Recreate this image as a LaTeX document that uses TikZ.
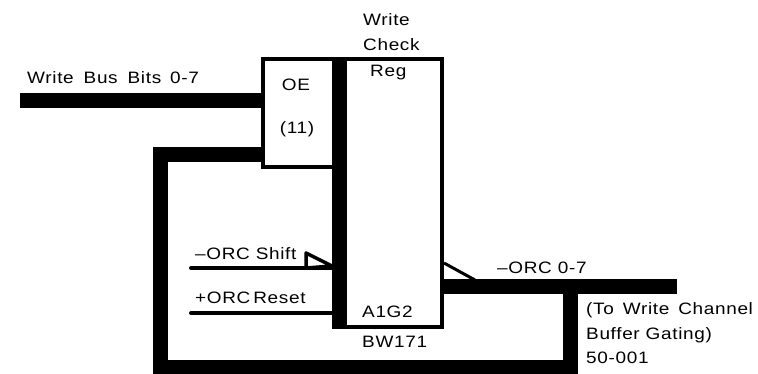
\documentclass[tikz,border=0pt]{standalone}
\usepackage{fontspec}
\setmainfont[FakeStretch=1.15,LetterSpace=4]{Liberation Sans}
\begin{document}
\begin{tikzpicture}[x=1pt,y=-1pt,
  box/.style={draw=black,line width=4pt,fill=white,inner sep=0pt,outer sep=0pt},
  bus/.style={line width=15pt,black},
  thin/.style={line width=4pt,black,line cap=round},
  tri/.style={draw=black,line width=3.5pt,fill=white,line join=round},
  lab/.style={inner sep=0pt,font=\fontsize{16.5}{18}\selectfont,text=black}]
\useasboundingbox (0,0) rectangle (758,373);
% boxes
\node[box,minimum width=103pt,minimum height=268pt,anchor=north west] (reg) at (339,59) {};
\node[box,minimum width=76pt,minimum height=108pt,anchor=north west] (oe) at (263,59) {};
\fill[black] (332,57) rectangle (347,329);
\coordinate (busin) at (20,100.5);
\coordinate (oein) at (261,100.5);
\coordinate (fbin) at (261,154.5);
\coordinate (fbc) at (160.5,154.5);
\coordinate (fbb) at (160.5,367);
\coordinate (fbr) at (570.5,367);
\coordinate (outj) at (570.5,286);
\coordinate (outs) at (442,286);
\coordinate (oute) at (677,286);
\coordinate (sh) at (191,268);
\coordinate (she) at (334,268);
\coordinate (rs) at (191,313);
\coordinate (rse) at (334,313);
\draw[bus] (busin) -- (oein);
\draw[bus,line join=miter] (fbin) -- (fbc) -- (fbb) -- (fbr) -- (outj);
\draw[bus] (outs) -- (oute);
\draw[thin] (sh) -- (she);
\draw[thin] (rs) -- (rse);
% triangles
\coordinate (a) at (306,268);
\coordinate (b) at (306,253);
\coordinate (c) at (332,266);
\draw[tri] (a) -- (b) -- (c) -- cycle;
\coordinate (d) at (444,263);
\coordinate (e) at (475,280);
\draw[black,line width=3pt] (d) -- (e);
% labels
\node[lab,anchor=west] (t1) at (27,78) {Write\hspace{4pt} Bus\hspace{4pt} Bits\hspace{3pt} 0-7};
\node[lab,anchor=west] (t2) at (363,20) {Write};
\node[lab,anchor=west] (t3) at (363,45) {Check};
\node[lab,anchor=west] (t4) at (370,73) {Reg};
\node[lab] (t5) at (296,85) {OE};
\node[lab] (t6) at (297,129) {(11)};
\node[lab,anchor=west] (t7) at (195,254) {–ORC Shift};
\node[lab,anchor=west] (t8) at (195,298) {+ORC\hspace{-3pt} Reset};
\node[lab,anchor=west] (t9) at (362,312) {A1G2};
\node[lab,anchor=west] (t10) at (362,342) {BW171};
\node[lab,anchor=west] (t11) at (497,268) {–ORC 0-7};
\node[lab,anchor=west] (t12) at (586,310) {(To\hspace{3pt} Write\hspace{3pt} Channel};
\node[lab,anchor=west] (t13) at (586,335) {Buffer Gating)};
\node[lab,anchor=west] (t14) at (586,358) {50-001};
\end{tikzpicture}
\end{document}
